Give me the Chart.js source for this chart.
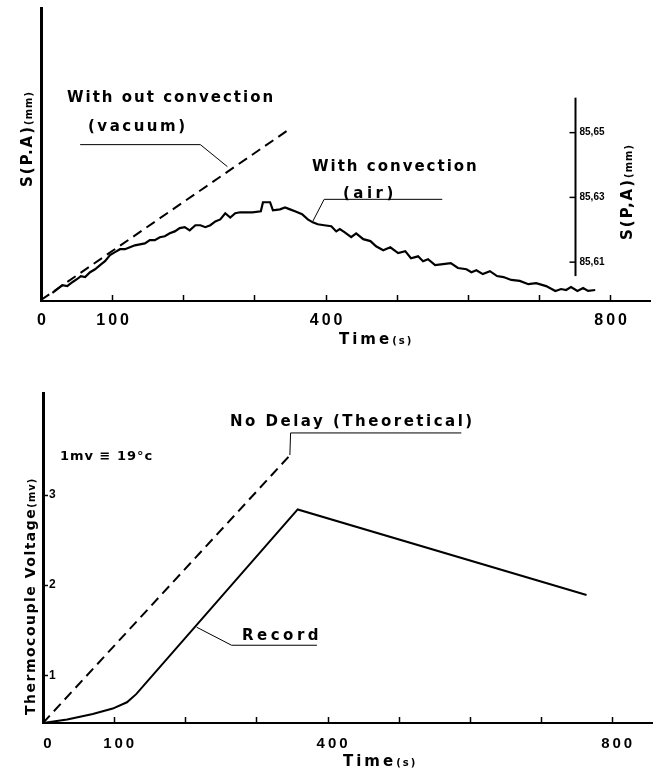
<!DOCTYPE html>
<html>
<head>
<meta charset="utf-8">
<script src="https://cdn.jsdelivr.net/npm/chart.js@4.4.1/dist/chart.umd.min.js"></script>
<style>
  html, body { margin: 0; padding: 0; background: #fff; }
  canvas { display: block; }
</style>
</head>
<body>
<canvas id="convChart" width="660" height="380"></canvas>
<canvas id="tcChart" width="660" height="392"></canvas>
<script>
// ---- top panel: S(P,A) vs time ----
const convTime = [16, 23, 30, 37, 44, 51, 56, 62, 69, 76, 83, 90, 97, 104, 111, 118, 125, 132, 139, 146,
  153, 160, 167, 174, 181, 188, 195, 202, 209, 217, 224, 231, 238, 245, 252, 259, 266, 273, 280, 287,
  297, 309, 312, 322, 326, 336, 343, 350, 357, 367, 375, 382, 389, 398, 408, 415, 420, 427, 436, 443,
  453, 463, 471, 481, 491, 502, 512, 520, 530, 537, 544, 554, 565, 576, 586, 598, 605, 612, 621, 631,
  641, 650, 661, 673, 685, 696, 710, 723, 731, 738, 745, 754, 762, 769, 779];
const convMm = [85.6005, 85.6017, 85.6029, 85.6026, 85.6038, 85.6048, 85.6057, 85.6054, 85.6069, 85.6078,
  85.6091, 85.6103, 85.6122, 85.6131, 85.6140, 85.6140, 85.6146, 85.6152, 85.6155, 85.6158,
  85.6168, 85.6168, 85.6177, 85.6180, 85.6189, 85.6195, 85.6205, 85.6208, 85.6198, 85.6214,
  85.6214, 85.6208, 85.6214, 85.6226, 85.6232, 85.6251, 85.6238, 85.6251, 85.6254, 85.6254,
  85.6254, 85.6257, 85.6285, 85.6285, 85.6260, 85.6263, 85.6269, 85.6263, 85.6257, 85.6248,
  85.6232, 85.6223, 85.6217, 85.6214, 85.6211, 85.6195, 85.6202, 85.6192, 85.6177, 85.6189,
  85.6171, 85.6165, 85.6149, 85.6137, 85.6146, 85.6128, 85.6134, 85.6112, 85.6118, 85.6103,
  85.6109, 85.6091, 85.6094, 85.6097, 85.6082, 85.6078, 85.6069, 85.6075, 85.6063, 85.6072,
  85.6057, 85.6054, 85.6045, 85.6042, 85.6032, 85.6035, 85.6026, 85.6011, 85.6017, 85.6014,
  85.6023, 85.6011, 85.6020, 85.6011, 85.6014];
const vacuumTime = [0, 350];
const vacuumMm = [85.5983, 85.6512];
const rightAxisTicks = [85.61, 85.63, 85.65];
const rightAxisSpan = [85.6057, 85.6608];

// ---- bottom panel: thermocouple voltage vs time ----
const recordTime = [0, 17, 34, 52, 70, 84, 98, 118, 131, 358, 764];
const recordMv = [0.47, 0.49, 0.51, 0.54, 0.57, 0.60, 0.63, 0.70, 0.79, 2.84, 1.89];
const noDelayTime = [0, 347];
const noDelayMv = [0.47, 3.44];
const mvTicks = [1, 2, 3];

// shared time axis
const timeLabels = [0, 100, 400, 800];
const timeMarks = [100, 200, 300, 400, 500, 600, 700, 800];

const FONT = '"DejaVu Sans", "Liberation Sans", sans-serif';
const NARROW = '"Liberation Sans Narrow", "Liberation Sans", sans-serif';

const toXY = (xs, ys) => xs.map((x, i) => ({ x: x, y: ys[i] }));

// draw a run of text pieces (different sizes) along one baseline
function drawText(ctx, parts, x, y, rotate) {
    ctx.save();
    ctx.translate(x, y);
    if (rotate) ctx.rotate(rotate);
    ctx.fillStyle = '#000';
    ctx.textAlign = 'left';
    ctx.textBaseline = 'alphabetic';
    let cx = 0;
    parts.forEach(p => {
        ctx.font = 'bold ' + p[1] + 'px ' + (p[3] || FONT);
        ctx.letterSpacing = (p[2] || 0) + 'px';
        ctx.fillText(p[0], cx, 0);
        cx += ctx.measureText(p[0]).width;
    });
    ctx.restore();
}

function polyline(chart, pts, width) {
    const { ctx, scales: { x, y } } = chart;
    ctx.save();
    ctx.strokeStyle = '#000';
    ctx.lineWidth = width || 1;
    ctx.beginPath();
    pts.forEach((p, i) => {
        const px = x.getPixelForValue(p[0]), py = y.getPixelForValue(p[1]);
        if (i) ctx.lineTo(px, py); else ctx.moveTo(px, py);
    });
    ctx.stroke();
    ctx.restore();
}

function timeTickMarks(chart) {
    const { ctx, scales: { x }, chartArea } = chart;
    ctx.save();
    ctx.strokeStyle = '#000';
    ctx.lineWidth = 1.5;
    timeMarks.forEach(v => {
        const px = Math.round(x.getPixelForValue(v)) + 0.5;
        ctx.beginPath();
        ctx.moveTo(px, chartArea.bottom);
        ctx.lineTo(px, chartArea.bottom - 6);
        ctx.stroke();
    });
    ctx.restore();
}

const spacedTicks = {
    id: 'spacedTicks',
    beforeDraw(chart) { chart.ctx.letterSpacing = '3px'; },
    afterDatasetsDraw(chart) { chart.ctx.letterSpacing = '0px'; }
};

const convDecor = {
    id: 'convDecor',
    afterDraw(chart) {
        const { ctx, scales: { x, y } } = chart;
        timeTickMarks(chart);

        // secondary S(P,A) axis standing at t = 750 s
        const ax = Math.round(x.getPixelForValue(750)) + 0.5;
        ctx.save();
        ctx.strokeStyle = '#000';
        ctx.lineWidth = 2;
        ctx.beginPath();
        ctx.moveTo(ax, y.getPixelForValue(rightAxisSpan[1]));
        ctx.lineTo(ax, y.getPixelForValue(rightAxisSpan[0]));
        ctx.stroke();
        ctx.lineWidth = 1.5;
        ctx.font = 'bold 10px ' + NARROW;
        ctx.fillStyle = '#000';
        ctx.textBaseline = 'middle';
        rightAxisTicks.forEach(v => {
            const py = y.getPixelForValue(v);
            ctx.beginPath();
            ctx.moveTo(ax - 6, py);
            ctx.lineTo(ax, py);
            ctx.stroke();
            ctx.fillText(v.toFixed(2).replace('.', ','), ax + 4, py);
        });
        ctx.restore();

        // leader lines
        polyline(chart, [[55, 85.6463], [224, 85.6463], [262, 85.6395]], 1);
        polyline(chart, [[382, 85.6226], [398, 85.6294], [564, 85.6294]], 1);

        drawText(ctx, [['With out convection', 15, 2]], 67, 102);
        drawText(ctx, [['(vacuum)', 15, 2.5]], 88, 131);
        drawText(ctx, [['With convection', 15, 2]], 312, 171);
        drawText(ctx, [['(air)', 15, 3.5]], 343, 198);

        drawText(ctx, [['S(P.A)', 15, 2], ['(mm)', 10, 1]], 32, 187, -Math.PI / 2);
        drawText(ctx, [['S(P,A)', 15, 2], ['(mm)', 10, 1]], 632, 240, -Math.PI / 2);
        drawText(ctx, [['Time', 15, 3], ['(s)', 10, 2]], 339, 344);
    }
};

const tcDecor = {
    id: 'tcDecor',
    afterDraw(chart) {
        const { ctx, scales: { y }, chartArea } = chart;
        timeTickMarks(chart);

        ctx.save();
        ctx.strokeStyle = '#000';
        ctx.lineWidth = 1.5;
        mvTicks.forEach(v => {
            const py = Math.round(y.getPixelForValue(v)) + 0.5;
            ctx.beginPath();
            ctx.moveTo(chartArea.left, py);
            ctx.lineTo(chartArea.left + 5, py);
            ctx.stroke();
        });
        ctx.restore();

        polyline(chart, [[347, 3.444], [348, 3.689], [588, 3.689]], 1);
        polyline(chart, [[216, 1.533], [265, 1.333], [385, 1.333]], 1);

        drawText(ctx, [['No Delay (Theoretical)', 15, 2.5]], 230, 46);
        drawText(ctx, [['1mv \u2261 19\u00b0c', 13, 1]], 60, 80);
        drawText(ctx, [['Record', 15, 3.5]], 242, 260);
        drawText(ctx, [['Thermocouple Voltage', 14, 1.5], ['(mv)', 10, 1]], 35, 335, -Math.PI / 2);
        drawText(ctx, [['Time', 15, 3], ['(s)', 10, 2]], 343, 386);
    }
};

function timeAxis(labelPad, offset, fontSize) {
    return {
        type: 'linear', min: 0, max: 856,
        afterBuildTicks: s => { s.ticks = timeLabels.map(v => ({ value: v })); },
        grid: { display: false },
        border: { color: '#000', width: 2 },
        ticks: {
            color: '#000', autoSkip: false, maxRotation: 0,
            padding: labelPad, labelOffset: offset,
            font: { family: NARROW, size: fontSize, weight: 'bold' }
        }
    };
}

const lineDefaults = { pointRadius: 0, tension: 0, fill: false, borderColor: '#000' };

const convX = timeAxis(2, 2, 16);
convX.afterFit = s => { s.height = 79; };

new Chart(document.getElementById('convChart'), {
    type: 'line',
    data: {
        datasets: [
            Object.assign({ data: toXY(convTime, convMm), borderWidth: 2.2 }, lineDefaults),
            Object.assign({ data: toXY(vacuumTime, vacuumMm), borderWidth: 2, borderDash: [10, 6] }, lineDefaults)
        ]
    },
    options: {
        responsive: false,
        animation: false,
        layout: { padding: { top: 8, right: 10, left: 0, bottom: 0 } },
        plugins: { legend: { display: false }, tooltip: { enabled: false } },
        scales: {
            x: convX,
            y: {
                min: 85.598, max: 85.6885,
                afterFit: s => { s.width = 41; },
                grid: { display: false },
                border: { color: '#000', width: 3 },
                ticks: { display: false }
            }
        }
    },
    plugins: [spacedTicks, convDecor]
});

const tcX = timeAxis(4, 6, 15);
tcX.afterFit = s => { s.height = 49; };

new Chart(document.getElementById('tcChart'), {
    type: 'line',
    data: {
        datasets: [
            Object.assign({ data: toXY(recordTime, recordMv), borderWidth: 2 }, lineDefaults),
            Object.assign({ data: toXY(noDelayTime, noDelayMv), borderWidth: 2, borderDash: [10, 6] }, lineDefaults)
        ]
    },
    options: {
        responsive: false,
        animation: false,
        layout: { padding: { top: 13, right: 8, left: 0, bottom: 0 } },
        plugins: { legend: { display: false }, tooltip: { enabled: false } },
        scales: {
            x: tcX,
            y: {
                min: 0.47, max: 4.13,
                afterBuildTicks: s => { s.ticks = mvTicks.map(v => ({ value: v })); },
                afterFit: s => { s.width = 43; },
                grid: { display: false },
                border: { color: '#000', width: 3 },
                ticks: {
                    mirror: true, padding: 6, color: '#000',
                    font: { family: NARROW, size: 12, weight: 'bold' }
                }
            }
        }
    },
    plugins: [spacedTicks, tcDecor]
});
</script>
</body>
</html>
